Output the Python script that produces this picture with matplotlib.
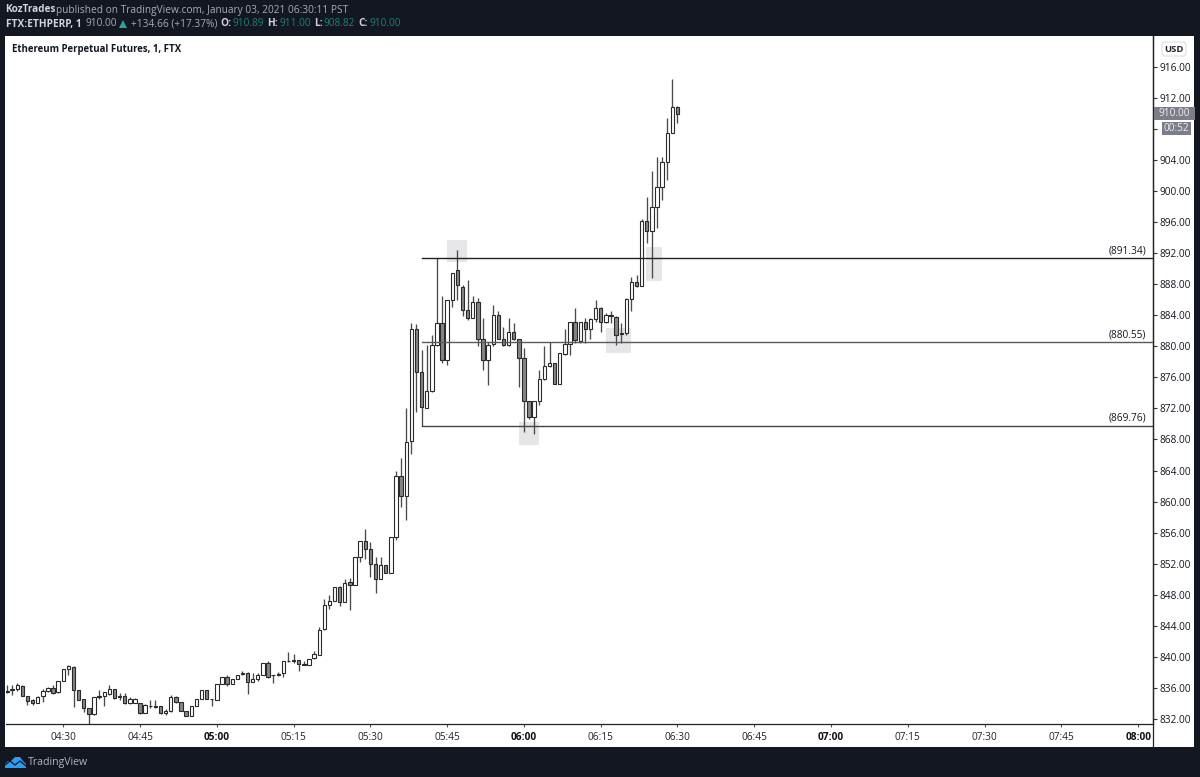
import matplotlib
matplotlib.use('Agg')
import matplotlib.pyplot as plt
from matplotlib.patches import Rectangle, FancyBboxPatch, Polygon

# minutes relative to 04:30, first candle is 04:19 and the last 06:30
minutes = list(range(-11, 121))

opens = [835.5, 835.7, 835.8, 836.2, 834.9, 834.4, 834.1, 834.9, 835.6, 836.0, 835.4,
         836.9, 838.4, 838.7, 835.7, 834.5, 833.4, 832.6, 834.9, 834.9, 835.2, 835.8,
         834.9, 834.9, 834.0, 834.1, 834.1, 832.8, 833.7, 833.6, 833.6, 832.7, 833.0,
         834.8, 834.2, 833.0, 832.4, 833.6, 834.5, 835.7, 834.5, 834.4, 836.5, 837.4,
         836.5, 837.1, 837.9, 837.9, 836.8, 837.1, 837.7, 839.2, 837.7, 837.8, 837.9,
         839.5, 839.6, 839.6, 839.0, 838.9, 839.8, 840.2, 843.6, 846.7, 847.2, 849.0,
         847.0, 849.6, 849.2, 852.8, 854.9, 853.9, 851.9, 850.0, 851.8, 850.8, 855.4,
         863.3, 860.7, 867.8, 882.3, 876.7, 872.1, 874.2, 880.2, 883.0, 878.2, 886.0,
         889.9, 887.7, 884.7, 883.7, 885.7, 880.9, 878.3, 880.3, 884.0, 880.9, 880.2,
         881.9, 880.9, 878.5, 872.9, 870.9, 872.9, 875.8, 877.5, 877.9, 875.2, 879.0,
         880.3, 883.2, 880.7, 883.1, 882.3, 883.5, 885.0, 883.1, 884.0, 883.8, 881.7,
         881.7, 886.1, 888.3, 887.8, 896.1, 894.9, 898.0, 900.5, 903.8, 907.5, 910.89]
highs = [836.4, 836.4, 836.6, 836.3, 835.0, 834.5, 834.9, 835.8, 836.1, 836.4, 836.9,
         838.4, 838.9, 838.8, 835.7, 834.6, 833.4, 834.8, 835.7, 835.5, 836.4, 835.9,
         835.3, 835.3, 834.8, 834.7, 834.1, 833.9, 834.4, 834.4, 833.7, 833.2, 835.1,
         834.9, 834.2, 833.0, 833.6, 834.5, 835.7, 835.7, 834.6, 836.5, 837.4, 837.6,
         837.1, 837.7, 838.2, 838.0, 837.9, 837.9, 839.2, 839.5, 837.7, 838.0, 839.5,
         840.6, 840.4, 839.6, 839.5, 839.7, 840.7, 843.8, 847.4, 848.0, 849.0, 849.1,
         850.0, 850.2, 852.8, 854.9, 856.4, 854.8, 852.8, 852.8, 851.8, 855.4, 863.9,
         865.6, 872.0, 883.0, 882.9, 879.5, 880.2, 881.5, 891.34, 886.5, 886.0, 889.5,
         892.4, 887.9, 888.5, 886.5, 886.2, 883.6, 880.6, 885.3, 884.5, 882.5, 883.6,
         883.0, 881.0, 879.8, 872.9, 872.9, 877.0, 880.0, 880.5, 877.9, 879.1, 882.3,
         883.2, 884.9, 883.1, 883.7, 883.7, 886.0, 885.1, 884.3, 884.5, 883.9, 883.0,
         886.2, 888.9, 889.2, 896.4, 899.3, 902.6, 904.4, 904.4, 909.4, 914.4, 911.0]
lows = [835.3, 835.1, 835.6, 834.9, 833.8, 833.8, 834.0, 834.2, 835.5, 835.2, 835.3,
        836.9, 837.7, 833.5, 834.4, 832.9, 831.3, 832.5, 834.6, 833.6, 835.1, 834.5,
        834.4, 833.9, 833.9, 834.0, 832.6, 832.8, 833.4, 833.4, 832.6, 832.5, 832.9,
        834.0, 833.0, 832.4, 832.4, 833.6, 834.5, 834.5, 833.7, 834.4, 836.5, 836.2,
        836.5, 837.1, 837.7, 835.2, 836.7, 836.9, 837.7, 837.3, 836.6, 837.5, 837.4,
        839.3, 839.2, 838.2, 838.9, 838.9, 839.7, 840.2, 843.5, 846.2, 847.2, 846.5,
        847.0, 846.0, 849.2, 852.2, 852.6, 850.3, 848.2, 850.0, 850.8, 850.8, 855.0,
        859.3, 857.6, 866.1, 871.6, 869.76, 872.0, 874.1, 880.1, 877.8, 877.6, 885.1,
        886.0, 883.9, 883.4, 883.6, 880.0, 877.0, 875.0, 880.0, 880.9, 880.1, 880.0,
        880.8, 874.8, 869.0, 870.7, 868.7, 872.5, 875.7, 877.3, 875.2, 875.2, 878.9,
        878.9, 880.4, 880.4, 880.4, 880.9, 883.2, 881.9, 883.0, 883.0, 880.2, 880.4,
        881.5, 884.5, 887.7, 887.8, 893.3, 888.8, 895.2, 898.9, 901.4, 907.5, 908.82]
closes = [835.6, 835.7, 836.4, 834.9, 834.3, 834.0, 834.8, 835.6, 836.0, 835.3, 836.9,
          838.4, 838.8, 835.7, 834.4, 833.4, 832.6, 834.8, 834.8, 835.4, 835.8, 834.7,
          834.8, 834.0, 834.5, 834.5, 832.8, 833.8, 833.6, 833.5, 832.7, 833.0, 834.8,
          834.2, 833.0, 832.4, 833.6, 834.5, 835.7, 834.5, 834.5, 836.5, 837.4, 836.5,
          837.1, 837.7, 837.8, 836.8, 837.1, 837.7, 839.2, 837.4, 837.6, 837.7, 839.5,
          839.4, 839.4, 839.1, 838.9, 839.7, 840.3, 843.5, 846.7, 847.2, 849.0, 847.0,
          849.5, 849.2, 852.8, 854.9, 853.9, 851.9, 850.0, 851.8, 850.8, 855.4, 863.3,
          860.7, 867.7, 882.3, 876.7, 872.2, 874.2, 880.2, 883.0, 878.2, 886.0, 889.4,
          887.9, 884.7, 883.7, 885.7, 881.0, 878.3, 880.2, 884.0, 881.0, 880.2, 881.9,
          880.9, 878.5, 872.9, 870.9, 872.9, 875.8, 877.5, 877.9, 875.2, 879.1, 880.3,
          883.2, 880.8, 883.1, 882.3, 883.5, 885.0, 883.1, 884.0, 883.9, 881.5, 881.6,
          886.1, 888.3, 887.8, 896.1, 894.9, 898.0, 900.5, 903.8, 907.5, 910.9, 910.0]

levels = [891.34, 880.55, 869.76]
level_colors = ['#222222', '#5a5a5a', '#444444']
level_start = 70

# highlight boxes: minute from, minute to, price low, price high
highlights = [(75.0, 78.9, 890.9, 893.7),
              (89.0, 92.9, 867.3, 870.3),
              (106.0, 110.9, 879.1, 882.4),
              (113.8, 116.9, 888.4, 892.8)]

price_ticks = list(range(832, 920, 4))
hidden_price = 908  # sits under the countdown tag
time_ticks = list(range(0, 225, 15))
time_labels = ['04:30', '04:45', '05:00', '05:15', '05:30', '05:45', '06:00', '06:15',
               '06:30', '06:45', '07:00', '07:15', '07:30', '07:45', '08:00']
hour_labels = ['05:00', '06:00', '07:00', '08:00']

BG = '#131722'
GREY = '#858585'
TEAL = '#1f7f76'
plt.rcParams['font.family'] = ['Open Sans', 'DejaVu Sans']

fig = plt.figure(figsize=(12, 7.77), dpi=100, facecolor=BG)

# white plate behind everything, in pixels
back = fig.add_axes([0, 0, 1, 1], zorder=0)
back.set_xlim(0, 1200)
back.set_ylim(777, 0)
back.axis('off')
back.add_patch(Rectangle((5, 36), 1189, 711, facecolor='white', edgecolor='none'))
back.plot([1153, 1153], [36, 747], color='#222222', lw=0.9)

ax = fig.add_axes([5.5 / 1200, 1 - 724 / 777, 1147.5 / 1200, 688 / 777], zorder=1)
ax.patch.set_alpha(0)
ax.set_xlim(-11.29, 212.9)
ax.set_ylim(831.33, 920.0)
for side in ['top', 'left']:
    ax.spines[side].set_visible(False)
for side in ['bottom', 'right']:
    ax.spines[side].set_color('#222222')
    ax.spines[side].set_linewidth(0.9)

ax.yaxis.tick_right()
ax.set_yticks(price_ticks)
ax.set_yticklabels(['' if p == hidden_price else '%.2f' % p for p in price_ticks])
ax.tick_params(axis='y', length=3, width=0.8, color='#333333', labelsize=7.3, pad=2,
               labelcolor=BG)
ax.set_xticks(time_ticks)
ax.set_xticklabels(time_labels)
ax.tick_params(axis='x', length=2.5, width=0.8, color='#555555', labelsize=7.3, pad=3.5,
               labelcolor='#222222')
for label in ax.get_xticklabels():
    if label.get_text() in hour_labels:
        label.set_fontweight('bold')
        label.set_color('#111111')

for x0, x1, y0, y1 in highlights:
    ax.add_patch(Rectangle((x0, y0), x1 - x0, y1 - y0, facecolor='#e6e6e8', edgecolor='none', zorder=1))

for level, col in zip(levels, level_colors):
    ax.plot([level_start, 212.9], [level, level], color=col, lw=1.0, zorder=4)
    ax.annotate('(%.2f)' % level, xy=(212.9, level), xytext=(-5, 1.5), textcoords='offset points',
                ha='right', va='bottom', fontsize=7.3, color=BG)

for m, o, h, l, c in zip(minutes, opens, highs, lows, closes):
    ax.plot([m, m], [l, h], color='#4a4a4a', lw=0.95, zorder=2, solid_capstyle='butt')
    fill = 'white' if c >= o else GREY
    bottom = min(o, c)
    ax.add_patch(Rectangle((m - 0.33, bottom), 0.66, max(abs(c - o), 0.08), facecolor=fill,
                           edgecolor='#2a2a2a', lw=0.8, zorder=3))

front = fig.add_axes([0, 0, 1, 1], zorder=2)
front.set_xlim(0, 1200)
front.set_ylim(777, 0)
front.axis('off')

front.text(5.5, 10, 'KozTrades', color='#d1d4dc', fontsize=7.2, fontweight='bold', va='center')
front.text(56.5, 10, 'published on TradingView.com, January 03, 2021 06:30:11 PST', color='#a8abb4',
           fontsize=7.25, va='center')

header = [(5.5, 'FTX:ETHPERP, 1', '#d1d4dc', 'bold'),
          (85, '910.00', '#a8abb4', 'normal'),
          (131, '+134.66 (+17.37%)', '#a8abb4', 'normal'),
          (220, 'O:', '#d1d4dc', 'bold'),
          (232.5, '910.89', TEAL, 'normal'),
          (267.5, 'H:', '#d1d4dc', 'bold'),
          (279.5, '911.00', TEAL, 'normal'),
          (314.5, 'L:', '#d1d4dc', 'bold'),
          (323, '908.82', TEAL, 'normal'),
          (358.5, 'C:', '#d1d4dc', 'bold'),
          (370, '910.00', TEAL, 'normal')]
for x, s, col, weight in header:
    front.text(x, 24, s, color=col, fontsize=7.25, fontweight=weight, va='center')
front.add_patch(Polygon([(119, 28), (127, 28), (123, 20)], facecolor='#26a69a', edgecolor='none'))

front.text(12.5, 49.5, 'Ethereum Perpetual Futures, 1, FTX', color=BG, fontsize=6.95,
           fontweight='bold', va='center')

front.add_patch(FancyBboxPatch((1164, 44), 20, 10, boxstyle='round,pad=2,rounding_size=3',
                               facecolor='white', edgecolor='#dddddd', lw=0.8))
front.text(1174, 49, 'USD', color='#222222', fontsize=6.8, fontweight='bold', ha='center', va='center')

front.add_patch(Rectangle((1153.5, 107), 41, 13, facecolor='#7b7e89', edgecolor='none'))
front.text(1174, 113.5, '910.00', color='#eeeeee', fontsize=7.3, ha='center', va='center')
front.add_patch(Rectangle((1162, 122), 29, 13, facecolor='#7b7e89', edgecolor='none'))
front.text(1176.5, 128.5, '00:52', color='#eeeeee', fontsize=7.3, ha='center', va='center')

# TradingView logo
front.add_patch(Polygon([(5, 768), (5, 764), (8, 761), (11, 761), (15, 757), (20, 757), (23, 761),
                         (26, 764), (26, 768)], facecolor='#2a9df4', edgecolor='none'))
front.plot([5, 10, 15, 20, 26], [765, 761, 765, 761, 766], color=BG, lw=0.9)
front.text(28, 762, 'TradingView', color='#b2b5be', fontsize=7.6, va='center')

fig.savefig('out.png', dpi=100, facecolor=BG)
